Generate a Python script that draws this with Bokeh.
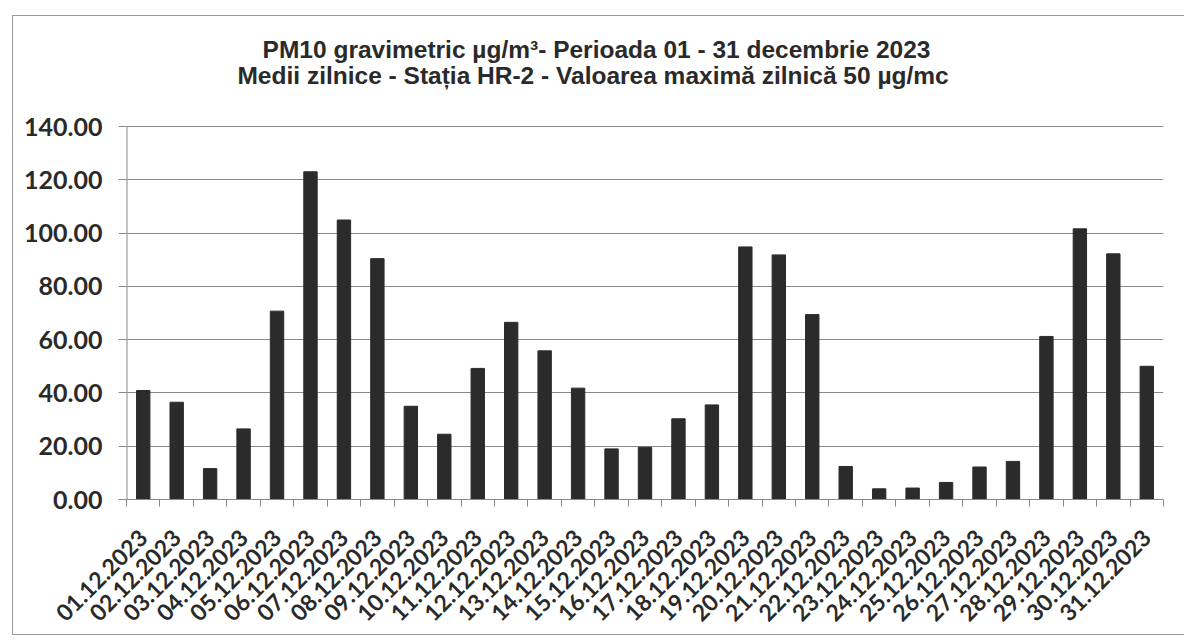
import math
from bokeh.plotting import figure
from bokeh.models import FixedTicker, LinearAxis
from bokeh.embed import file_html
from bokeh.resources import INLINE
from bokeh.core.properties import value

dates = ["%02d.12.2023" % d for d in range(1, 32)]
pm10 = [40.9, 36.5, 11.6, 26.5, 70.7, 123.0, 104.9, 90.4, 35.0, 24.5,
        49.2, 66.5, 55.8, 41.8, 19.0, 19.6, 30.3, 35.5, 94.8, 91.8,
        69.4, 12.4, 4.0, 4.3, 6.4, 12.2, 14.3, 61.2, 101.6, 92.2, 50.0]
y_ticks = [0, 20, 40, 60, 80, 100, 120, 140]
title1 = "PM10 gravimetric µg/m³- Perioada 01 - 31 decembrie 2023"
title2 = "Medii zilnice - Stația HR-2 -  Valoarea maximă zilnică 50 µg/mc"

n = len(dates)
xs = list(range(1, n + 1))

# layout (pixels)
frame_h = 483          # frame covers the title area too
axis_h = 373           # pixel height of 0..140
ymax = max(y_ticks)
y_top = ymax * frame_h / axis_h
px_per_unit = axis_h / ymax
x_px = 1037 / n

p = figure(width=1172, height=620, output_backend="svg", toolbar_location=None,
           x_range=(0.5, n + 0.5), y_range=(0, y_top),
           min_border_left=113, min_border_right=22, min_border_top=0, min_border_bottom=137,
           x_axis_location=None, y_axis_location=None)
p.styles = {"margin-left": "12px", "margin-top": "15px",
            "border-left": "1px solid #9a9a9a", "border-top": "1px solid #9a9a9a",
            "border-bottom": "1px solid #9a9a9a"}
p.outline_line_color = None
p.background_fill_color = "white"
p.border_fill_color = "white"

p.vbar(x=xs, top=pm10, width=0.4, fill_color="#2b2b2b", line_color="#2b2b2b")

xaxis = LinearAxis(ticker=FixedTicker(ticks=xs, minor_ticks=[i + 0.5 for i in range(0, n + 1)]))
xaxis.major_label_overrides = {i + 1: d for i, d in enumerate(dates)}
xaxis.major_label_orientation = math.pi / 4
xaxis.major_tick_line_color = None
xaxis.major_tick_out = 0
xaxis.major_tick_in = 0
xaxis.minor_tick_out = 7
xaxis.minor_tick_in = 0
xaxis.minor_tick_line_color = "#8a8a8a"
xaxis.axis_line_color = "#8a8a8a"
xaxis.major_label_standoff = 27
xaxis.major_label_text_font = "Lato"
xaxis.major_label_text_font_style = "bold"
xaxis.major_label_text_font_size = "23px"
xaxis.major_label_text_color = "#2a2a2a"
p.add_layout(xaxis, "below")

yaxis = LinearAxis(ticker=FixedTicker(ticks=y_ticks))
yaxis.major_label_overrides = {t: "%.2f" % t for t in y_ticks}
yaxis.minor_tick_line_color = None
yaxis.major_tick_out = 8
yaxis.major_tick_in = 0
yaxis.major_tick_line_color = "#8a8a8a"
yaxis.axis_line_color = None
yaxis.major_label_standoff = 16
yaxis.major_label_text_font = "Lato"
yaxis.major_label_text_font_style = "bold"
yaxis.major_label_text_font_size = "25px"
yaxis.major_label_text_color = "#2a2a2a"
p.add_layout(yaxis, "left")

# visible part of the y axis line (0..140 only)
p.segment(x0=[0.5], y0=[0], x1=[0.5], y1=[ymax], line_color="#8a8a8a", line_width=2)

p.xgrid.visible = False
p.ygrid.ticker = FixedTicker(ticks=y_ticks)
p.ygrid.grid_line_color = "#8a8a8a"
p.ygrid.grid_line_width = 1

# titles, placed in pixels above the 140 line
title_cx = 0.5 + (597 - 127) / x_px
p.text(x=[title_cx, title_cx],
       y=[ymax + (127 - 50) / px_per_unit, ymax + (127 - 76) / px_per_unit],
       text=[title1, title2], text_align="center", text_baseline="middle",
       text_font=value("Liberation Sans"), text_font_style="bold",
       text_font_size="24.5px", text_color="#2a2a2a")

open("out.html", "w").write(file_html(p, INLINE))
